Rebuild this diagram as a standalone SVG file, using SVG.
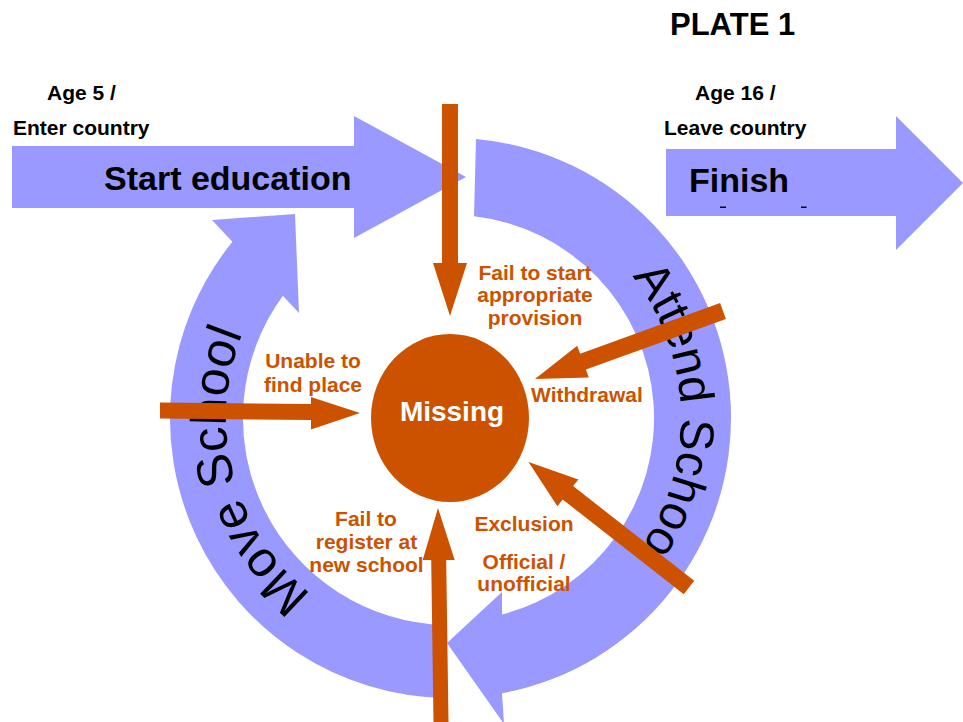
<svg xmlns="http://www.w3.org/2000/svg" width="963" height="722" viewBox="0 0 963 722">
<style>
.band{fill:#9999FF;stroke:none}
.org{fill:#CC5200;stroke:none}
.blk{font-family:"Liberation Sans",Arial,sans-serif;font-weight:bold;fill:#000}
.lab{font-family:"Liberation Sans",Arial,sans-serif;font-weight:bold;font-size:21px;fill:#CC5200;text-anchor:middle}
.curve{font-family:"Liberation Sans",Arial,sans-serif;font-weight:normal;fill:#000}
</style>
<defs>
<path id="pAttend" d="M 632.2 276.4 A 230 230 0 0 1 529.7 634.1"/>
<path id="pMove" d="M 311.5 594 A 224 224 0 0 1 321.5 234.5"/>
</defs>
<rect width="963" height="722" fill="#fff"/>
<text class="blk" x="670" y="35" font-size="31">PLATE 1</text>

<g id="start">
<polygon class="band" points="12,146 354,146 354,116 466,177 354,238 354,208 12,208"/>
<text class="blk" x="47" y="100" font-size="21">Age 5 /</text>
<text class="blk" x="13" y="135" font-size="21">Enter country</text>
<text class="blk" x="104" y="190" font-size="34">Start education</text>
</g>

<g id="finish">
<polygon class="band" points="666,149 896,149 896,116 963,183 896,250 896,216 666,216"/>
<text class="blk" x="695" y="100" font-size="21">Age 16 /</text>
<text class="blk" x="664" y="135" font-size="21">Leave country</text>
<text class="blk" x="689" y="192" font-size="34">Finish</text>
<rect x="720" y="206.5" width="6" height="1.5" fill="#000"/>
<rect x="801" y="206.5" width="5.5" height="1.5" fill="#000"/>
</g>

<g id="move-school">
<path class="band" d="M 445 698 A 280 280 0 0 1 232.4 241.8 L 212 220 L 295 214 L 299 313 L 282.9 295.8 A 207 207 0 0 0 445 625 Z"/>
<text class="curve" font-size="50"><textPath href="#pMove">Move School</textPath></text>
</g>

<g id="attend-school">
<path class="band" d="M 476 139.1 A 280 280 0 0 1 502 693.3 L 504 724 L 447 643 L 502 592 L 502 614.5 A 203 203 0 0 0 474 216.3 Z"/>
<text class="curve" font-size="48"><textPath href="#pAttend">Attend School</textPath></text>
</g>

<g id="missing">
<ellipse class="org" cx="450" cy="418" rx="79" ry="84"/>
<text class="blk" x="452" y="421" font-size="28" fill="#fff" style="fill:#fff" text-anchor="middle">Missing</text>
</g>

<g id="connectors">
<polygon class="org" points="442,104 458,104 458,263 467,263 450,316 433,263 442,263"/>
<polygon class="org" points="160,402.5 311,404 311,397 360,413 311,429.5 311,420 160,418.5"/>
<polygon class="org" points="720.1,303 580.1,353.7 577.2,345.7 535,379 588.8,377.6 585.9,369.6 725.9,319"/>
<polygon class="org" points="694.2,580.8 573.1,486.1 578.4,479.4 528.5,462 557.4,506.2 562.7,499.5 683.8,594.2"/>
<polygon class="org" points="433.5,722 431.2,560 422.7,560 438,508 454.7,560 446.2,560 448.5,722"/>
</g>

<g id="labels">
<text class="lab" x="535" y="280">Fail to start</text>
<text class="lab" x="535" y="302">appropriate</text>
<text class="lab" x="535" y="325">provision</text>
<text class="lab" x="313" y="368">Unable to</text>
<text class="lab" x="313" y="391.5">find place</text>
<text class="lab" x="531" y="401.5" text-anchor="start" style="text-anchor:start">Withdrawal</text>
<text class="lab" x="524" y="531">Exclusion</text>
<text class="lab" x="524" y="569">Official /</text>
<text class="lab" x="524" y="591">unofficial</text>
<text class="lab" x="366" y="526">Fail to</text>
<text class="lab" x="366.5" y="548.5">register at</text>
<text class="lab" x="366.5" y="571.5">new school</text>
</g>
</svg>
